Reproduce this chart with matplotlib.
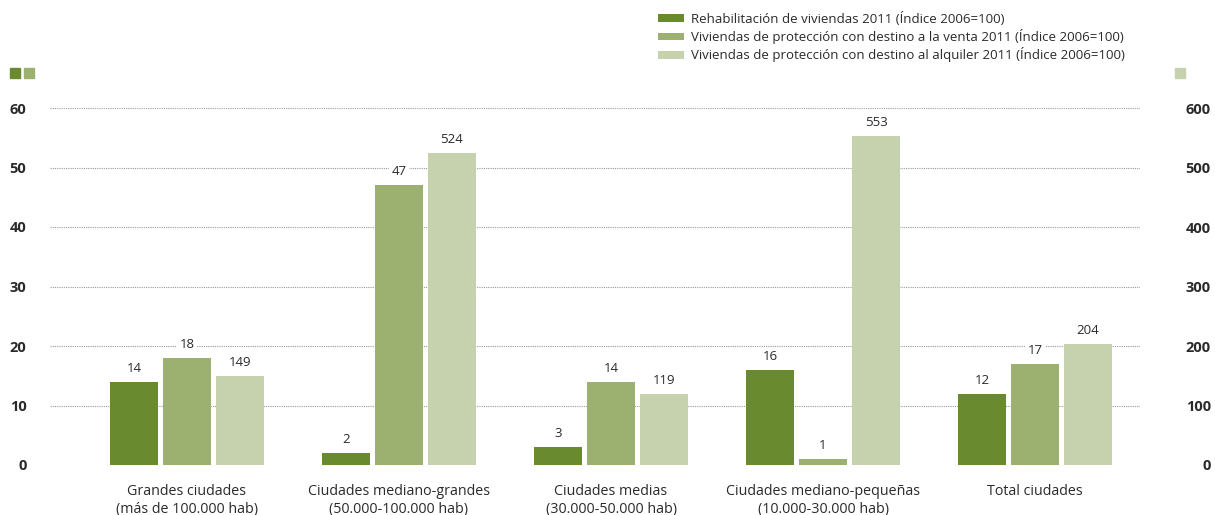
import matplotlib.pyplot as plt
import numpy as np
from matplotlib.patches import Rectangle

categories = ["Grandes ciudades\n(más de 100.000 hab)",
              "Ciudades mediano-grandes\n(50.000-100.000 hab)",
              "Ciudades medias\n(30.000-50.000 hab)",
              "Ciudades mediano-pequeñas\n(10.000-30.000 hab)",
              "Total ciudades"]
rehabilitacion = [14, 2, 3, 16, 12]
venta = [18, 47, 14, 1, 17]
alquiler = [149, 524, 119, 553, 204]

series_names = ["Rehabilitación de viviendas 2011 (Índice 2006=100)",
                "Viviendas de protección con destino a la venta 2011 (Índice 2006=100)",
                "Viviendas de protección con destino al alquiler 2011 (Índice 2006=100)"]
colors = ["#6a8a30", "#9cb070", "#c6d1ad"]

plt.rcParams['font.family'] = ['Open Sans', 'DejaVu Sans']
text_col = "#2a2a2a"

fig = plt.figure(figsize=(12.15, 5.15), dpi=100)
ax = fig.add_axes([50 / 1215, 50 / 515, 1090 / 1215, 357 / 515])
ax2 = ax.twinx()

x = np.arange(len(categories))
w = 0.226
off = 0.25

ax.set_ylim(0, 60)
ax2.set_ylim(0, 600)
ax.set_xlim(-0.646, 4.495)

# lineas de guia punteadas
for v in range(10, 61, 10):
    ax.axhline(v, color="#9a9a9a", lw=0.8, ls=(0, (1, 1)), zorder=0)

b1 = ax.bar(x - off, rehabilitacion, w, color=colors[0], zorder=2)
b2 = ax.bar(x, venta, w, color=colors[1], zorder=2)
b3 = ax2.bar(x + off, alquiler, w, color=colors[2], zorder=2)

lbl = dict(ha="center", va="bottom", fontsize=9.5, color=text_col,
           bbox=dict(facecolor="white", edgecolor="none", pad=1.5))
for xi, v in zip(x, rehabilitacion):
    ax.annotate(str(v), (xi - off, v), xytext=(0, 5), textcoords="offset points", **lbl)
for xi, v in zip(x, venta):
    ax.annotate(str(v), (xi, v), xytext=(0, 5), textcoords="offset points", **lbl)
for xi, v in zip(x, alquiler):
    ax2.annotate(str(v), (xi + off, v), xytext=(0, 5), textcoords="offset points", **lbl)

for a in (ax, ax2):
    for s in a.spines.values():
        s.set_visible(False)

ax.set_yticks(range(0, 61, 10))
ax.tick_params(axis="y", length=0, pad=17, labelsize=10.5, labelcolor=text_col)
for t in ax.get_yticklabels():
    t.set_fontweight("bold")
ax2.set_yticks(range(0, 601, 100))
ax2.tick_params(axis="y", length=0, pad=51, labelsize=10.5, labelcolor=text_col)
for t in ax2.get_yticklabels():
    t.set_fontweight("bold")
    t.set_ha("right")

ax.set_xticks(x)
ax.set_xticklabels(categories, fontsize=10.3, color=text_col, linespacing=1.25)
ax.tick_params(axis="x", length=0, pad=14)

# leyenda
fig.legend([b1, b2, b3], series_names, loc="upper left",
           bbox_to_anchor=(646 / 1215, 1.0), frameon=False, fontsize=9.5,
           handlelength=2.0, handleheight=0.5, handletextpad=0.5,
           labelspacing=0.25, labelcolor=text_col)

# cuadritos sobre los ejes
for xp, c in [(10, colors[0]), (24, colors[1]), (1175, colors[2])]:
    fig.patches.append(Rectangle((xp / 1215, (515 - 78) / 515), 10 / 1215, 10 / 515,
                                 color=c, transform=fig.transFigure, figure=fig))

fig.savefig("out.png", dpi=100)
